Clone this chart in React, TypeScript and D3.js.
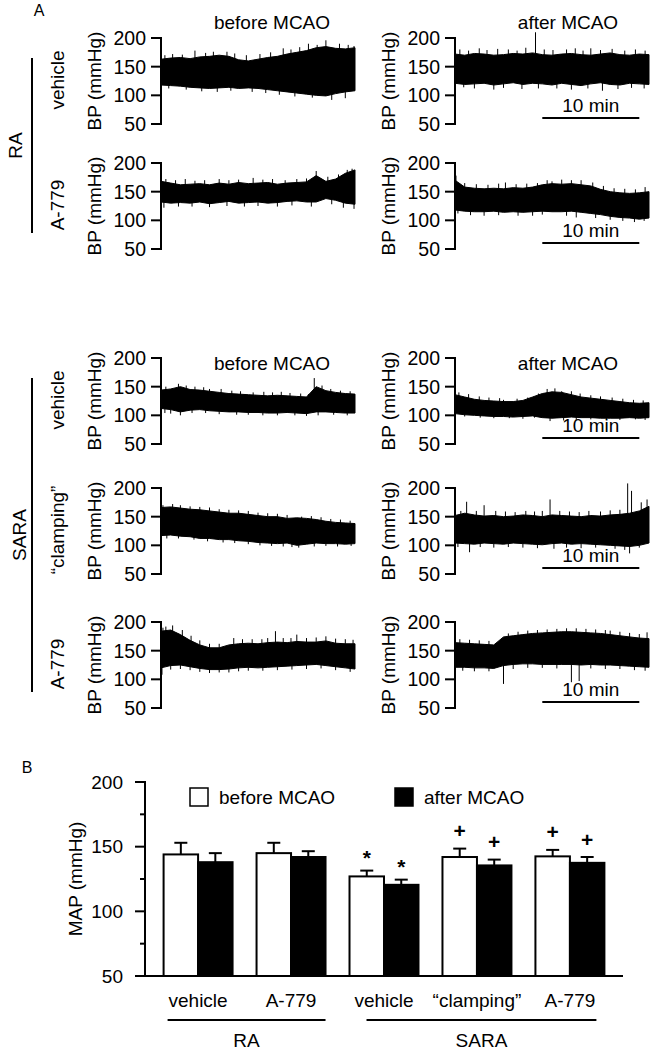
import React from "react";
import * as d3 from "d3";

// ---------------- Panel A data (BP recordings, envelope + spikes) ----------------
const tMinutes = [0, 1, 2, 3, 4, 5, 6, 7, 8, 9, 10, 11, 12, 13, 14, 15, 16, 17, 18, 19, 20];
const bpTicks = [50, 100, 150, 200];
const rowLabels = ["vehicle", "A-779", "vehicle", "\u201Cclamping\u201D", "A-779"];
const groupLabels = ["RA", "SARA"];
const groupRows = [[0, 1], [2, 4]];

// RA vehicle
const raVehBeforeHi = [163, 165, 166, 164, 167, 168, 170, 168, 162, 160, 163, 166, 168, 172, 175, 178, 183, 185, 182, 181, 183];
const raVehBeforeLo = [118, 117, 116, 114, 113, 112, 113, 114, 112, 113, 112, 110, 108, 106, 104, 102, 100, 99, 103, 106, 108];
const raVehBeforeSpikes = [[0.4, 170], [1.2, 172], [2.2, 171], [3.5, 178], [4.6, 174], [5.4, 176], [6.8, 176], [7.6, 173], [8.8, 170], [10.2, 172], [11.3, 175], [12.6, 182], [13.4, 180], [14.3, 184], [15.2, 190], [16.1, 188], [17.0, 196], [18.4, 190], [19.3, 188], [19.9, 186], [0.8, 112], [2.6, 110], [4.2, 107], [5.8, 106], [7.2, 108], [9.4, 106], [10.8, 104], [12.2, 101], [13.8, 98], [15.6, 96], [17.6, 92], [19.0, 95]];
const raVehAfterHi = [172, 170, 173, 172, 170, 171, 173, 172, 174, 171, 170, 172, 173, 171, 170, 172, 174, 171, 170, 172, 171];
const raVehAfterLo = [121, 119, 120, 121, 118, 120, 122, 119, 121, 120, 118, 121, 119, 117, 120, 122, 119, 118, 121, 120, 119];
const raVehAfterSpikes = [[0.5, 180], [1.4, 178], [2.5, 182], [3.3, 179], [4.4, 181], [5.5, 180], [6.4, 178], [7.3, 183], [8.3, 210], [9.2, 180], [10.1, 179], [11.5, 180], [12.4, 182], [13.2, 178], [14.0, 182], [15.0, 179], [16.2, 181], [17.5, 178], [18.6, 180], [19.6, 178], [0.9, 114], [2.0, 112], [4.0, 110], [5.0, 113], [6.9, 111], [8.6, 112], [10.5, 112], [12.0, 110], [13.7, 112], [15.2, 108], [16.8, 111], [18.2, 113], [19.5, 112]];
// RA A-779
const raA779BeforeHi = [168, 165, 162, 163, 164, 162, 165, 163, 166, 164, 165, 166, 163, 165, 166, 167, 178, 168, 172, 182, 188];
const raA779BeforeLo = [132, 130, 131, 130, 132, 129, 131, 133, 130, 131, 132, 130, 131, 133, 134, 132, 132, 138, 135, 130, 128];
const raA779BeforeSpikes = [[0.5, 172], [1.5, 170], [2.5, 172], [3.5, 169], [4.5, 170], [6.0, 172], [7.0, 170], [8.0, 171], [9.5, 174], [10.5, 171], [11.5, 172], [12.8, 170], [14.0, 172], [15.0, 173], [16.0, 186], [17.2, 176], [18.3, 180], [19.2, 188], [19.7, 190], [0.3, 122], [1.8, 124], [3.2, 124], [5.0, 123], [6.8, 125], [8.6, 124], [10.0, 125], [12.0, 124], [13.5, 126], [15.5, 124], [17.6, 128], [18.8, 122], [19.9, 120]];
const raA779AfterHi = [170, 158, 156, 155, 156, 155, 157, 156, 158, 162, 164, 163, 164, 162, 160, 154, 150, 148, 147, 148, 150];
const raA779AfterLo = [118, 116, 115, 115, 116, 114, 115, 114, 115, 116, 115, 115, 116, 114, 112, 110, 107, 105, 104, 102, 104];
const raA779AfterSpikes = [[0.1, 178], [1.0, 165], [2.2, 163], [3.4, 162], [4.5, 164], [5.2, 166], [6.3, 163], [7.4, 164], [8.5, 165], [9.5, 170], [10.0, 168], [11.0, 171], [12.0, 170], [13.0, 170], [14.2, 166], [15.3, 160], [16.4, 156], [17.5, 155], [18.6, 154], [19.6, 158], [0.3, 112], [1.6, 109], [3.0, 108], [4.5, 109], [6.5, 108], [8.0, 108], [9.0, 110], [11.5, 108], [12.5, 105], [14.5, 104], [16.0, 101], [17.3, 99], [18.5, 97], [19.5, 99]];
// SARA vehicle
const saVehBeforeHi = [144, 146, 150, 145, 144, 142, 140, 138, 137, 136, 135, 134, 135, 134, 133, 132, 150, 143, 140, 138, 137];
const saVehBeforeLo = [112, 110, 106, 109, 110, 108, 107, 106, 106, 105, 105, 104, 104, 105, 104, 103, 106, 106, 105, 104, 104];
const saVehBeforeSpikes = [[0.5, 150], [1.8, 155], [2.6, 152], [3.5, 150], [4.4, 149], [5.0, 146], [6.2, 146], [7.3, 143], [8.2, 142], [9.5, 140], [10.6, 141], [11.5, 140], [12.4, 141], [13.3, 139], [14.4, 138], [15.2, 137], [15.8, 165], [16.6, 152], [17.5, 146], [18.5, 143], [19.5, 142], [0.4, 104], [1.0, 103], [2.0, 100], [3.2, 104], [4.6, 104], [6.0, 102], [7.8, 101], [9.0, 101], [10.5, 100], [12.0, 100], [13.8, 100], [15.0, 99], [16.2, 100], [17.8, 101], [19.2, 100]];
const saVehAfterHi = [136, 132, 128, 126, 125, 124, 124, 126, 132, 138, 141, 140, 136, 132, 130, 128, 126, 124, 122, 121, 122];
const saVehAfterLo = [103, 101, 100, 99, 98, 98, 97, 98, 99, 96, 95, 96, 97, 96, 96, 95, 95, 95, 96, 95, 96];
const saVehAfterSpikes = [[0.4, 140], [1.4, 137], [2.5, 133], [3.5, 131], [4.6, 130], [5.0, 127], [6.4, 129], [7.5, 131], [8.6, 138], [9.5, 146], [10.3, 147], [11.0, 142], [12.0, 142], [12.9, 138], [14.0, 135], [15.0, 133], [16.2, 131], [17.3, 129], [18.4, 127], [19.4, 126], [1.0, 98], [2.6, 96], [4.0, 95], [5.6, 95], [7.0, 94], [8.2, 96], [9.8, 90], [11.2, 91], [12.5, 92], [14.0, 93], [15.6, 92], [17.0, 92], [18.6, 93], [19.6, 92]];
// SARA "clamping"
const saClampBeforeHi = [166, 167, 165, 163, 162, 160, 158, 156, 156, 154, 152, 150, 150, 147, 148, 147, 145, 142, 140, 139, 138];
const saClampBeforeLo = [117, 118, 116, 115, 112, 112, 110, 110, 108, 107, 105, 104, 103, 104, 100, 102, 104, 103, 103, 102, 103];
const saClampBeforeSpikes = [[0.2, 170], [1.2, 172], [2.0, 170], [3.0, 168], [4.0, 167], [5.0, 166], [6.0, 163], [7.0, 162], [8.0, 161], [9.0, 160], [10.0, 157], [11.0, 156], [12.0, 155], [13.0, 153], [14.5, 150], [15.5, 151], [16.5, 149], [17.5, 146], [18.5, 145], [19.5, 143], [0.6, 112], [1.8, 112], [3.4, 110], [4.8, 107], [6.4, 105], [7.6, 104], [9.0, 102], [10.2, 100], [11.4, 99], [12.6, 98], [13.5, 97], [14.2, 96], [15.8, 98], [17.0, 99], [18.2, 98], [19.6, 99]];
const saClampAfterHi = [152, 156, 153, 151, 152, 150, 151, 153, 152, 150, 153, 152, 151, 150, 152, 151, 153, 154, 156, 160, 168];
const saClampAfterLo = [104, 103, 102, 104, 103, 102, 104, 103, 102, 101, 103, 104, 102, 103, 102, 101, 100, 99, 98, 100, 104];
const saClampAfterSpikes = [[0.6, 160], [1.2, 176], [2.2, 160], [3.0, 170], [4.2, 160], [5.2, 159], [6.2, 158], [7.3, 160], [8.2, 159], [9.0, 160], [9.8, 180], [10.8, 160], [11.8, 159], [12.8, 158], [13.8, 160], [15.0, 159], [16.0, 161], [17.0, 162], [17.8, 208], [18.2, 195], [19.2, 175], [19.8, 180], [0.3, 97], [1.5, 88], [2.6, 97], [4.0, 96], [5.5, 97], [7.0, 96], [8.5, 95], [10.2, 94], [11.5, 96], [13.0, 95], [14.5, 96], [16.5, 94], [17.5, 92], [18.0, 86], [19.0, 96]];
// SARA A-779
const saA779BeforeHi = [184, 186, 178, 168, 160, 155, 155, 160, 162, 163, 162, 164, 165, 164, 166, 165, 165, 167, 163, 162, 162];
const saA779BeforeLo = [120, 124, 125, 122, 119, 117, 117, 118, 120, 121, 120, 121, 122, 123, 124, 125, 126, 124, 122, 120, 118];
const saA779BeforeSpikes = [[0.2, 190], [0.5, 192], [1.2, 194], [2.2, 186], [3.1, 176], [4.0, 168], [5.0, 162], [6.0, 162], [7.5, 172], [8.4, 170], [9.4, 170], [10.4, 170], [11.0, 172], [11.8, 184], [12.6, 172], [13.4, 172], [14.0, 178], [15.0, 172], [16.0, 173], [17.0, 175], [18.0, 171], [19.0, 170], [19.8, 169], [0.1, 108], [1.0, 117], [2.0, 118], [3.0, 116], [4.0, 113], [5.0, 111], [6.0, 112], [7.0, 112], [8.0, 114], [9.0, 115], [10.5, 115], [12.0, 116], [13.5, 117], [15.0, 118], [16.5, 119], [18.0, 116], [19.5, 113]];
const saA779AfterHi = [164, 163, 162, 161, 160, 174, 176, 178, 180, 181, 182, 183, 183, 182, 181, 180, 178, 176, 174, 172, 171];
const saA779AfterLo = [121, 121, 120, 120, 119, 124, 126, 127, 127, 126, 126, 126, 126, 125, 126, 125, 125, 124, 123, 122, 121];
const saA779AfterSpikes = [[0.5, 170], [1.5, 169], [2.5, 168], [3.5, 167], [4.9, 152], [5.5, 180], [6.5, 183], [7.5, 185], [8.5, 186], [9.5, 187], [10.5, 188], [11.5, 189], [12.5, 189], [13.5, 188], [14.5, 187], [15.5, 186], [16.0, 185], [17.0, 183], [18.0, 181], [19.0, 179], [19.8, 182], [0.8, 115], [2.0, 114], [3.5, 114], [5.0, 92], [6.0, 118], [7.5, 120], [9.0, 120], [10.5, 119], [12.0, 95], [12.8, 97], [14.0, 119], [15.5, 118], [17.0, 118], [18.5, 116], [19.6, 115]];

const traces = [
  { before: [raVehBeforeHi, raVehBeforeLo, raVehBeforeSpikes], after: [raVehAfterHi, raVehAfterLo, raVehAfterSpikes] },
  { before: [raA779BeforeHi, raA779BeforeLo, raA779BeforeSpikes], after: [raA779AfterHi, raA779AfterLo, raA779AfterSpikes] },
  { before: [saVehBeforeHi, saVehBeforeLo, saVehBeforeSpikes], after: [saVehAfterHi, saVehAfterLo, saVehAfterSpikes] },
  { before: [saClampBeforeHi, saClampBeforeLo, saClampBeforeSpikes], after: [saClampAfterHi, saClampAfterLo, saClampAfterSpikes] },
  { before: [saA779BeforeHi, saA779BeforeLo, saA779BeforeSpikes], after: [saA779AfterHi, saA779AfterLo, saA779AfterSpikes] },
];
const scaleBarMinutes = [9, 19];

// ---------------- Panel B data (MAP) ----------------
const barGroups = ["vehicle", "A-779", "vehicle", "\u201Cclamping\u201D", "A-779"];
const mapBefore = [144, 145, 127, 142, 142.5];
const mapBeforeSem = [9, 8, 4.5, 6.5, 5];
const mapAfter = [138, 142, 120.5, 135.5, 137.5];
const mapAfterSem = [7, 4.5, 4, 4.5, 4.5];
const markBefore = ["", "", "*", "+", "+"];
const markAfter = ["", "", "*", "+", "+"];
const mapMajorTicks = [50, 100, 150, 200];
const mapMinorTicks = [75, 125, 175];
const barSuperGroups = ["RA", "SARA"];
const barSuperSpan = [[0, 1], [2, 4]];
const legendLabels = ["before MCAO", "after MCAO"];

// ---------------- Layout ----------------
const W = 654;
const H = 1050;
const FS = 19;
const FONT = "'Liberation Sans', Arial, Helvetica, sans-serif";
const ROW_Y200 = [38, 163, 358, 488, 622];
const PANEL_H = 86;
const LEFT_AXIS = 161;
const RIGHT_AXIS = 455;
const TRACE_W = 194;

function Trace({ hi, lo, spikes, x, y }) {
  const area = d3
    .area<number>()
    .x((_, i) => x(tMinutes[i]))
    .y0((_, i) => y(lo[i]))
    .y1((d) => y(d));
  const mid = (t: number) => {
    const i = Math.max(0, Math.min(tMinutes.length - 1, Math.round(t)));
    return (hi[i] + lo[i]) / 2;
  };
  return (
    <g>
      <path d={area(hi) || ""} fill="#000" stroke="#000" strokeWidth={1} strokeLinejoin="round" />
      {spikes.map(([t, v], k) => (
        <line key={k} x1={x(t)} x2={x(t)} y1={y(mid(t))} y2={y(v)} stroke="#000" strokeWidth={1} />
      ))}
    </g>
  );
}

function BPAxis({ axisX, y }) {
  return (
    <g>
      <line x1={axisX} x2={axisX} y1={y(200)} y2={y(50)} stroke="#000" strokeWidth={2} strokeLinecap="square" />
      {bpTicks.map((t) => (
        <g key={t}>
          <line x1={axisX - 10} x2={axisX} y1={y(t)} y2={y(t)} stroke="#000" strokeWidth={2} />
          <text x={axisX - 15} y={y(t)} textAnchor="end" dominantBaseline="central" fontSize={FS + 0.5}>
            {t}
          </text>
        </g>
      ))}
      <text
        transform={`translate(${axisX - 67},${(y(200) + y(50)) / 2}) rotate(-90)`}
        textAnchor="middle"
        dominantBaseline="central"
        fontSize={FS}
      >
        BP (mmHg)
      </text>
    </g>
  );
}

function PanelA() {
  const xL = d3.scaleLinear().domain([0, 20]).range([LEFT_AXIS, LEFT_AXIS + TRACE_W]);
  const xR = d3.scaleLinear().domain([0, 20]).range([RIGHT_AXIS, RIGHT_AXIS + TRACE_W]);
  return (
    <g>
      <text x={39} y={10} textAnchor="middle" dominantBaseline="central" fontSize={16}>A</text>
      {[22, 363].map((ty, k) => (
        <g key={k}>
          <text x={272} y={ty} textAnchor="middle" dominantBaseline="central" fontSize={FS}>before MCAO</text>
          <text x={568} y={ty} textAnchor="middle" dominantBaseline="central" fontSize={FS}>after MCAO</text>
        </g>
      ))}
      {traces.map((tr, r) => {
        const y0 = ROW_Y200[r];
        const y = d3.scaleLinear().domain([50, 200]).range([y0 + PANEL_H, y0]);
        return (
          <g key={r}>
            <text
              transform={`translate(57,${y0 + 42}) rotate(-90)`}
              textAnchor="middle"
              dominantBaseline="central"
              fontSize={FS}
            >
              {rowLabels[r]}
            </text>
            <BPAxis axisX={LEFT_AXIS} y={y} />
            <BPAxis axisX={RIGHT_AXIS} y={y} />
            <Trace hi={tr.before[0]} lo={tr.before[1]} spikes={tr.before[2]} x={xL} y={y} />
            <Trace hi={tr.after[0]} lo={tr.after[1]} spikes={tr.after[2]} x={xR} y={y} />
            <line
              x1={xR(scaleBarMinutes[0])}
              x2={xR(scaleBarMinutes[1])}
              y1={y0 + 80}
              y2={y0 + 80}
              stroke="#000"
              strokeWidth={2}
            />
            <text
              x={(xR(scaleBarMinutes[0]) + xR(scaleBarMinutes[1])) / 2}
              y={y0 + 67}
              textAnchor="middle"
              dominantBaseline="central"
              fontSize={FS}
            >
              10 min
            </text>
          </g>
        );
      })}
      {groupLabels.map((g, k) => {
        const top = ROW_Y200[groupRows[k][0]] + 20;
        const bot = ROW_Y200[groupRows[k][1]] + 70;
        return (
          <g key={g}>
            <line x1={32} x2={32} y1={top} y2={bot} stroke="#000" strokeWidth={2} />
            <text
              transform={`translate(${k === 0 ? 15 : 19},${(top + bot) / 2}) rotate(-90)`}
              textAnchor="middle"
              dominantBaseline="central"
              fontSize={FS}
            >
              {g}
            </text>
          </g>
        );
      })}
    </g>
  );
}

function PanelB() {
  const idx = barGroups.map((_, i) => i);
  const x0 = d3.scaleBand<number>().domain(idx).range([145, 623]).paddingInner(0.258).paddingOuter(0.2);
  const x1 = d3.scaleBand<string>().domain(["before", "after"]).range([0, x0.bandwidth()]);
  const y = d3.scaleLinear().domain([50, 200]).range([976, 782]);
  const bw = x1.bandwidth();
  const series = [
    { key: "before", vals: mapBefore, sem: mapBeforeSem, marks: markBefore, fill: "#fff" },
    { key: "after", vals: mapAfter, sem: mapAfterSem, marks: markAfter, fill: "#000" },
  ];
  const insets = [[4, 0], [17, -8]];
  return (
    <g>
      <text x={27} y={767} textAnchor="middle" dominantBaseline="central" fontSize={16}>B</text>
      {/* y axis */}
      <line x1={145} x2={145} y1={y(200)} y2={y(50)} stroke="#000" strokeWidth={2} strokeLinecap="square" />
      {mapMajorTicks.map((t) => (
        <g key={t}>
          <line x1={135} x2={145} y1={y(t)} y2={y(t)} stroke="#000" strokeWidth={2} />
          <text x={123} y={y(t)} textAnchor="end" dominantBaseline="central" fontSize={FS}>{t}</text>
        </g>
      ))}
      {mapMinorTicks.map((t) => (
        <line key={t} x1={140} x2={145} y1={y(t)} y2={y(t)} stroke="#000" strokeWidth={2} />
      ))}
      <text
        transform={`translate(75,${(y(200) + y(50)) / 2}) rotate(-90)`}
        textAnchor="middle"
        dominantBaseline="central"
        fontSize={FS}
      >
        MAP (mmHg)
      </text>
      {/* bars */}
      {series.map((s) =>
        idx.map((i) => {
          const bx = (x0(i) as number) + (x1(s.key) as number);
          const cx = bx + bw / 2;
          const v = s.vals[i];
          const top = y(v + s.sem[i]);
          return (
            <g key={s.key + i}>
              <line x1={cx} x2={cx} y1={y(v)} y2={top} stroke="#000" strokeWidth={2} />
              <line x1={cx - 6.5} x2={cx + 6.5} y1={top} y2={top} stroke="#000" strokeWidth={2} />
              <rect x={bx} y={y(v)} width={bw} height={y(50) - y(v)} fill={s.fill} stroke="#000" strokeWidth={2} />
              {s.marks[i] && (
                <text
                  x={cx}
                  y={top - 18}
                  dy={s.marks[i] === "*" ? "0.23em" : "0"}
                  textAnchor="middle"
                  dominantBaseline="central"
                  fontSize={21}
                  fontWeight="bold"
                >
                  {s.marks[i]}
                </text>
              )}
            </g>
          );
        })
      )}
      {/* x axis */}
      <line x1={135} x2={623} y1={y(50)} y2={y(50)} stroke="#000" strokeWidth={2} />
      {idx.map((i) => (
        <text
          key={i}
          x={(x0(i) as number) + x0.bandwidth() / 2}
          y={1000}
          textAnchor="middle"
          dominantBaseline="central"
          fontSize={FS}
        >
          {barGroups[i]}
        </text>
      ))}
      {barSuperGroups.map((g, k) => {
        const a = (x0(barSuperSpan[k][0]) as number) + insets[k][0];
        const b = (x0(barSuperSpan[k][1]) as number) + x0.bandwidth() + insets[k][1];
        return (
          <g key={g}>
            <line x1={a} x2={b} y1={1020} y2={1020} stroke="#000" strokeWidth={2} />
            <text x={(a + b) / 2} y={1040} textAnchor="middle" dominantBaseline="central" fontSize={FS}>
              {g}
            </text>
          </g>
        );
      })}
      {/* legend */}
      <rect x={190} y={788} width={18} height={18} fill="#fff" stroke="#000" strokeWidth={1.5} />
      <text x={219} y={797} dominantBaseline="central" fontSize={FS}>{legendLabels[0]}</text>
      <rect x={395} y={788} width={18} height={18} fill="#000" stroke="#000" strokeWidth={1.5} />
      <text x={424} y={797} dominantBaseline="central" fontSize={FS}>{legendLabels[1]}</text>
    </g>
  );
}

export default function App() {
  return (
    <svg
      width={W}
      height={H}
      viewBox={`0 0 ${W} ${H}`}
      style={{ position: "absolute", left: 0, top: 0, background: "#fff" }}
      fontFamily={FONT}
      fill="#000"
    >
      <rect x={0} y={0} width={W} height={H} fill="#fff" />
      <PanelA />
      <PanelB />
    </svg>
  );
}
